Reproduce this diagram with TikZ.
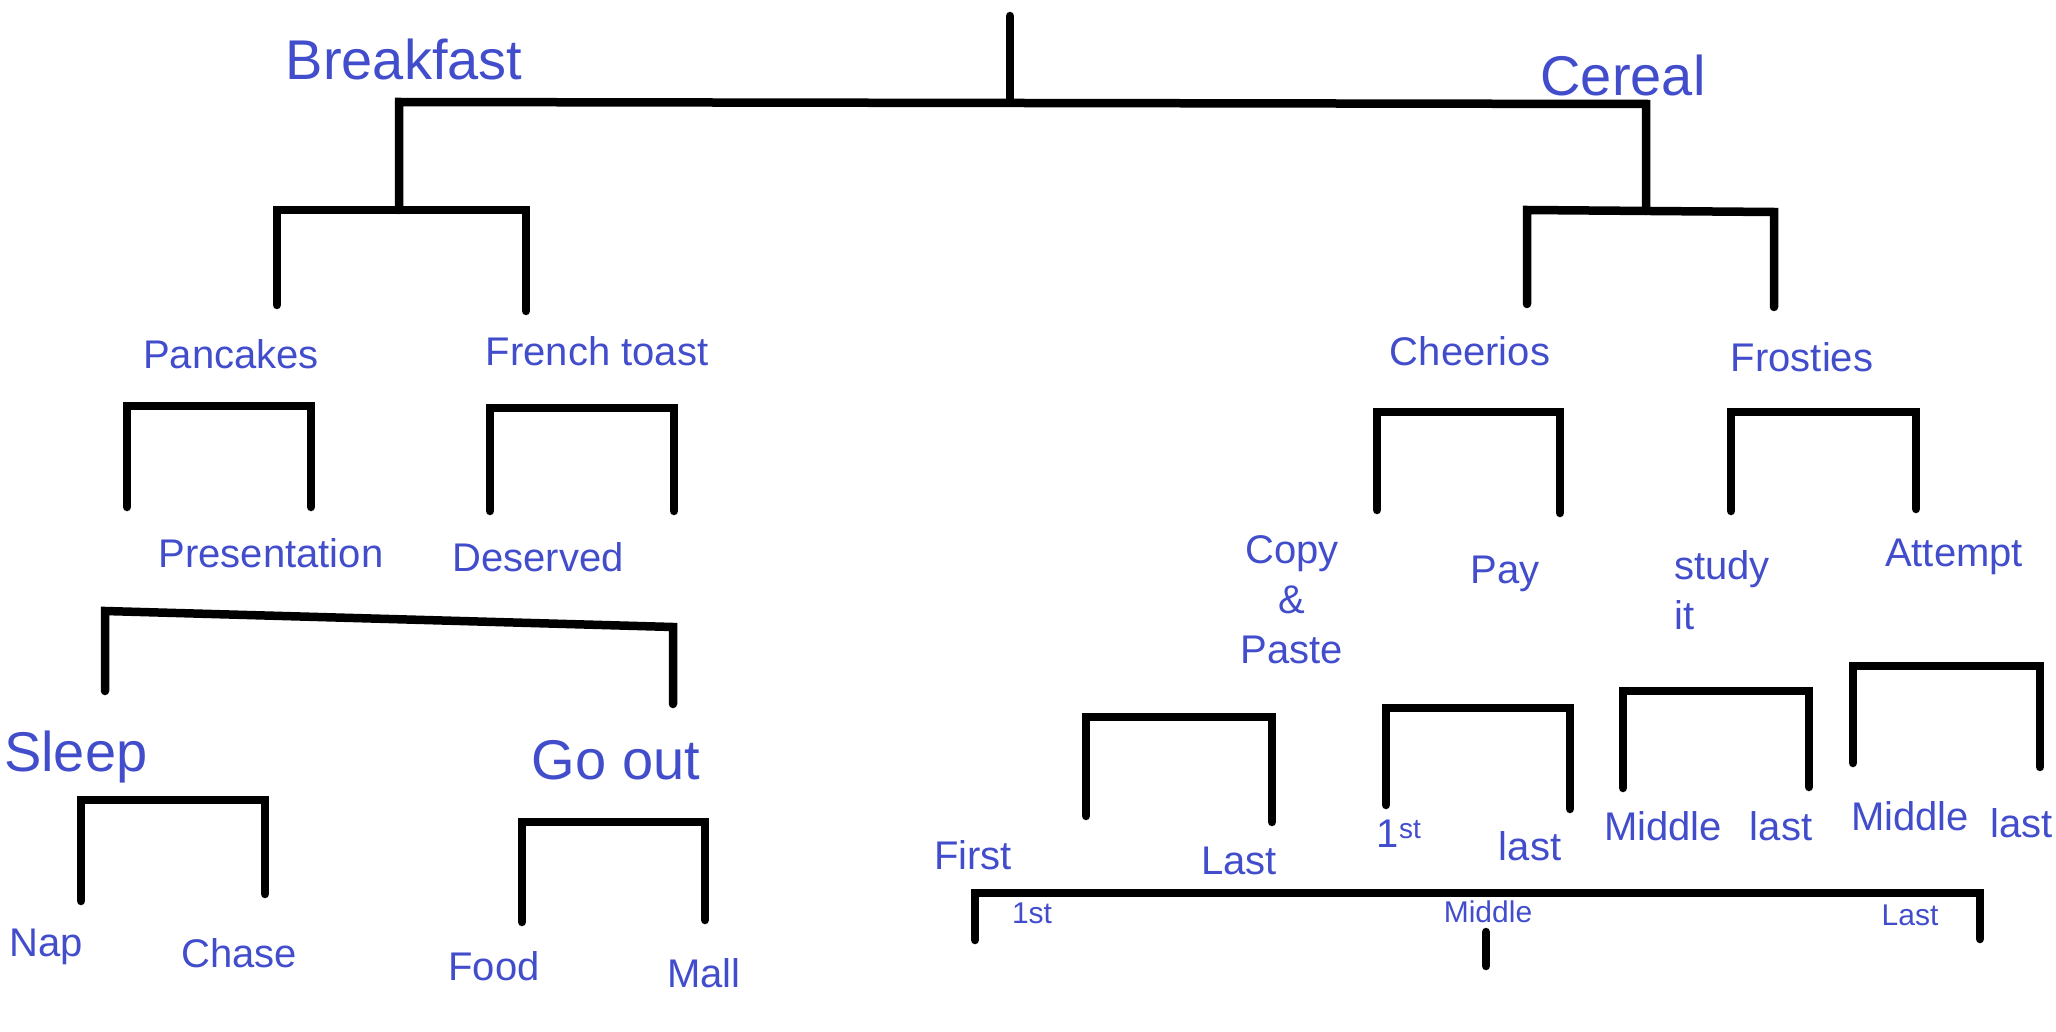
\documentclass[tikz,border=0pt]{standalone}
\usepackage{fontspec}
\setmainfont{Liberation Sans}
\definecolor{inkblue}{RGB}{66,77,204}

\begin{document}
\begin{tikzpicture}[
  x=1pt,y=-1pt,
  bar/.style={line width=8.5pt,line cap=round,line join=miter},
  lbl/.style={text=inkblue,inner sep=0pt,font=\fontsize{40}{50}\selectfont},
  biglbl/.style={lbl,font=\fontsize{56}{60}\selectfont},
  smalllbl/.style={lbl,font=\fontsize{30}{32}\selectfont}
]
\useasboundingbox (0,0) rectangle (2056,1032);

% brackets: name / left x / left top / left end / right x / right top / right end
\foreach \n/\xl/\ytl/\yel/\xr/\ytr/\yer in {
    bk/277/210/305/526/210/311, pc/127/406/507/311/406/507,
    ft/490/408/511/674/408/511, pr/105/611/691/673/627/704,
    sl/81/800/901/265/800/894,  go/522/822/922/705/822/920,
    ce/1527/210/304/1774/212/307, ch/1377/412/510/1560/412/513,
    fr/1731/412/511/1916/412/509, cp/1086/717/816/1272/717/822,
    py/1386/708/805/1570/708/809, st/1623/691/788/1809/691/787,
    at/1853/666/763/2040/666/767, bot/975/893/940/1980/893/939} {
  \coordinate (\n-l) at (\xl,\ytl);
  \coordinate (\n-r) at (\xr,\ytr);
  \coordinate (\n-le) at (\xl,\yel);
  \coordinate (\n-re) at (\xr,\yer);
  \draw[bar] (\n-le) -- (\n-l) -- (\n-r) -- (\n-re);
}

% top of the tree
\coordinate (root) at (1010,16);
\coordinate (main-m) at (1010,102);
\coordinate (main-l) at (399,102);
\coordinate (main-r) at (1646,104);
\coordinate (bk-j) at (399,210);
\coordinate (ce-j) at (1646,211);
\draw[bar] (bk-j) -- (main-l) -- (main-r) -- (ce-j);
\draw[bar] (root) -- (main-m);

% loose tick under the bottom bar
\coordinate (mid-a) at (1486,932);
\coordinate (mid-b) at (1486,966);
\draw[bar] (mid-a) -- (mid-b);

% left side
\node[biglbl] (breakfast) at (404,59) {Breakfast};
\node[lbl] (pancakes) at (231,354) {Pancakes};
\node[lbl] (frenchtoast) at (597,351) {French toast};
\node[lbl] (presentation) at (271,553) {Presentation};
\node[lbl] (deserved) at (538,557) {Deserved};
\node[biglbl,anchor=west] (sleep) at (4,757) {Sleep};
\node[biglbl] (goout) at (616,760) {Go out};
\node[lbl] (nap) at (46,947) {Nap};
\node[lbl] (chase) at (239,953) {Chase};
\node[lbl] (food) at (494,966) {Food};
\node[lbl] (mall) at (704,973) {Mall};

% right side
\node[biglbl] (cereal) at (1623,75) {Cereal};
\node[lbl] (cheerios) at (1470,351) {Cheerios};
\node[lbl] (frosties) at (1802,357) {Frosties};
\node[lbl,align=center] (copypaste) at (1292,600) {Copy\\\&\\Paste};
\node[lbl] (pay) at (1505,574) {Pay};
\node[lbl,align=left] (studyit) at (1722,590) {study\\it};
\node[lbl] (attempt) at (1954,557) {Attempt};
\node[lbl] (first) at (973,855) {First};
\node[lbl] (last1) at (1239,861) {Last};
\node[lbl] (first2) at (1399,834) {1\textsuperscript{st}};
\node[lbl] (last2) at (1530,846) {last};
\node[lbl] (middle3) at (1663,826) {Middle};
\node[lbl] (last3) at (1781,826) {last};
\node[lbl] (middle4) at (1910,816) {Middle};
\node[lbl,anchor=west] (last4) at (1990,823) {last};

% under the bottom bar
\node[smalllbl] (bfirst) at (1032,913) {1st};
\node[smalllbl] (bmiddle) at (1488,912) {Middle};
\node[smalllbl] (blast) at (1910,915) {Last};
\end{tikzpicture}
\end{document}
